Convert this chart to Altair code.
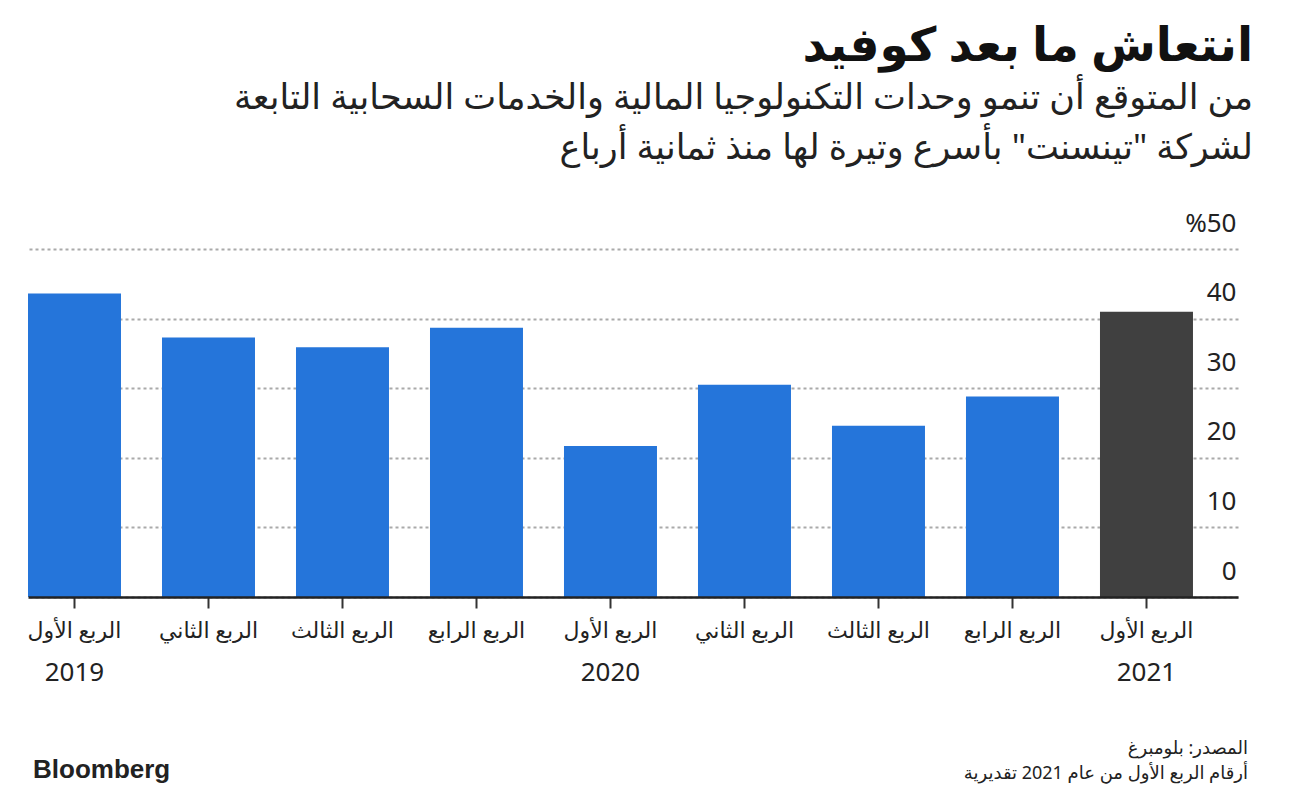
import altair as alt
import pandas as pd

# ---- data ----
quarters = ["الربع الأول", "الربع الثاني", "الربع الثالث", "الربع الرابع",
            "الربع الأول", "الربع الثاني", "الربع الثالث", "الربع الرابع",
            "الربع الأول"]
years = ["2019", "2019", "2019", "2019", "2020", "2020", "2020", "2020", "2021"]
year_shown = ["2019", "", "", "", "2020", "", "", "", "2021"]
growth = [43.6, 37.3, 35.9, 38.7, 21.7, 30.5, 24.6, 28.8, 41.0]
kind = ["actual"] * 8 + ["estimate"]
y_ticks = [0, 10, 20, 30, 40, 50]

title_text = "انتعاش ما بعد كوفيد"
subtitle_lines = ["من المتوقع أن تنمو وحدات التكنولوجيا المالية والخدمات السحابية التابعة",
                  "لشركة \"تينسنت\" بأسرع وتيرة لها منذ ثمانية أرباع"]
source_text = "المصدر: بلومبرغ"
note_text = "أرقام الربع الأول من عام 2021 تقديرية"
brand_text = "Bloomberg"

keys = [f"{q}|{y}" for q, y in zip(quarters, years)]
df = pd.DataFrame({"key": keys, "quarter": quarters, "year": year_shown,
                   "growth": growth, "kind": kind})

W, H = 1210, 348
FONT = "'Noto Sans', 'DejaVu Sans', sans-serif"

x_enc = alt.X("key:N", sort=keys,
              scale=alt.Scale(paddingInner=0.306, paddingOuter=0.168, align=0),
              axis=alt.Axis(title=None, labelExpr="split(datum.value,'|')[0]",
                            labelAngle=0,
                            labelFontSize=22, labelColor="#222", labelFont=FONT,
                            labelPadding=12, labelBaseline="top",
                            domainColor="#222", domainWidth=2.5,
                            tickColor="#333", tickWidth=2, tickSize=11,
                            grid=False, zindex=1))

bars = alt.Chart(df).mark_bar().encode(
    x=x_enc,
    y=alt.Y("growth:Q",
            scale=alt.Scale(domain=[0, 50], nice=False),
            axis=alt.Axis(title=None, orient="right", values=y_ticks,
                          labelExpr="datum.value == 50 ? '%50' : datum.label",
                          labelAlign="right", labelBaseline="alphabetic",
                          labelOffset=-18, labelPadding=-2,
                          labelFontSize=26, labelColor="#222", labelFont=FONT,
                          tickSize=0, domain=False,
                          grid=True, gridColor="#aaaaaa", gridDash=[3, 3],
                          gridWidth=2)),
    color=alt.Color("kind:N", scale=alt.Scale(domain=["actual", "estimate"],
                                              range=["#2575da", "#404040"]),
                    legend=None),
)

year_text = alt.Chart(df).transform_filter("datum.year != ''").mark_text(
    font=FONT, fontSize=26, color="#222", align="center", baseline="alphabetic"
).encode(x=alt.X("key:N", sort=keys), y=alt.value(H + 84), text="year:N")

foot = pd.DataFrame({"a": [0]})
brand = alt.Chart(foot).mark_text(text=brand_text, font="Liberation Sans",
                                  fontWeight="bold", fontSize=26, color="#222",
                                  align="left", baseline="alphabetic").encode(
    x=alt.value(5), y=alt.value(529))
src = alt.Chart(foot).mark_text(text=source_text, font=FONT, fontSize=18,
                                color="#222", align="right",
                                baseline="alphabetic").encode(
    x=alt.value(1220), y=alt.value(505))
note = alt.Chart(foot).mark_text(text=note_text, font=FONT, fontSize=18,
                                 color="#222", align="right",
                                 baseline="alphabetic").encode(
    x=alt.value(1220), y=alt.value(530))

chart = alt.layer(bars, year_text, brand, src, note).properties(
    width=W, height=H,
    padding={"left": 20, "top": 241, "right": 50, "bottom": 196},
    autosize=alt.AutoSizeParams(type="none"),
    title=alt.TitleParams(text=title_text, subtitle=subtitle_lines,
                          anchor="end", align="right", dx=5,
                          font=FONT, fontSize=47, fontWeight="bold", color="#111",
                          subtitleFont=FONT, subtitleFontSize=35,
                          subtitleLineHeight=50, subtitleColor="#222",
                          subtitlePadding=10, offset=43),
).configure_view(stroke=None)

chart.save("out.html", embed_options={"renderer": "svg", "actions": False})
